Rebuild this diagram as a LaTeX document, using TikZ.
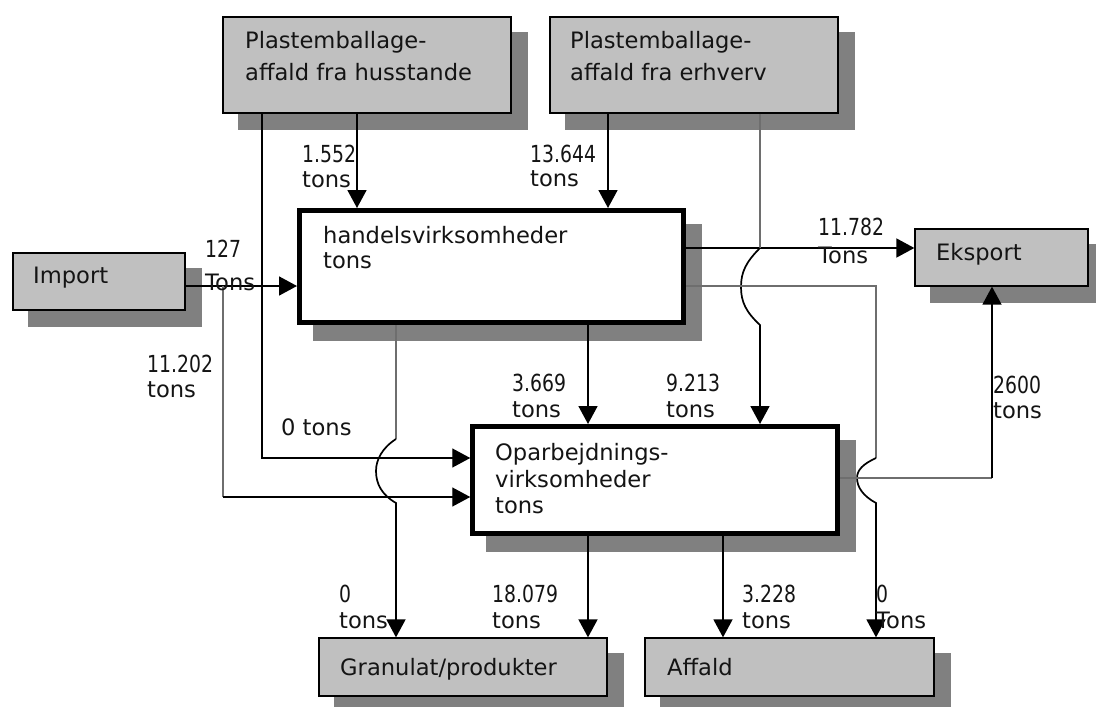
\documentclass[tikz,border=0pt]{standalone}
\usepackage{fontspec}
\setmainfont{DejaVu Sans}
\newfontfamily\numf[FakeStretch=0.8]{DejaVu Sans}
\usetikzlibrary{arrows.meta,backgrounds}
\definecolor{boxgray}{HTML}{C0C0C0}
\definecolor{shadowgray}{HTML}{808080}
\definecolor{linegray}{HTML}{6E6E6E}
\tikzset{
  gbox/.style={draw=black, line width=1.3pt, fill=boxgray, inner sep=0pt, outer sep=0.65pt},
  tbox/.style={draw=black, line width=5pt, fill=white, inner sep=0pt, outer sep=2.5pt},
  txt/.style={anchor=base west, inner sep=0pt, font=\fontsize{22.6}{26}\selectfont, text=black!92},
  num/.style={anchor=base west, inner sep=0pt, font=\numf\fontsize{23.5}{26}\selectfont, text=black!92},
  arr/.style={draw=black, line width=1.7pt, -{Triangle[length=18pt,width=19pt]}},
  thinarr/.style={draw=black, line width=1.4pt, -{Triangle[length=18pt,width=19pt]}},
  gline/.style={draw=linegray, line width=1.2pt},
  shadowfill/.style={fill=shadowgray}
}
\begin{document}
\begin{tikzpicture}[x=1pt,y=-1pt]
\useasboundingbox (0,0) rectangle (1096,707);

% boxes
\node[gbox, minimum width=288pt, minimum height=96pt] (A) at (367,65) {};
\node[gbox, minimum width=288pt, minimum height=96pt] (B) at (694,65) {};
\node[gbox, minimum width=172pt, minimum height=57pt] (Imp) at (99,281.5) {};
\node[gbox, minimum width=173pt, minimum height=57pt] (Eks) at (1001.5,257.5) {};
\node[tbox, minimum width=384pt, minimum height=112pt] (H) at (491.5,266.5) {};
\node[tbox, minimum width=364.5pt, minimum height=107pt] (O) at (655,480) {};
\node[gbox, minimum width=288pt, minimum height=58pt] (G) at (463,667) {};
\node[gbox, minimum width=289pt, minimum height=58pt] (Aff) at (789.5,667) {};

% shadows
\begin{scope}[on background layer]
  \foreach \n in {A,B,Imp,Eks,H,O,G,Aff}
    \fill[shadowfill] ([shift={(16,16)}]\n.north west) rectangle ([shift={(16,16)}]\n.south east);
\end{scope}

% box texts
\node[txt] (tA1) at (245,48) {Plastemballage-};
\node[txt] (tA2) at (245,80) {affald fra husstande};
\node[txt] (tB1) at (570,48) {Plastemballage-};
\node[txt] (tB2) at (570,80) {affald fra erhverv};
\node[txt] (tH1) at (323,243) {handelsvirksomheder};
\node[txt] (tH2) at (323,268) {tons};
\node[txt] (tImp) at (33,283) {Import};
\node[txt] (tEks) at (936,260) {Eksport};
\node[txt] (tO1) at (495,460) {Oparbejdnings-};
\node[txt] (tO2) at (495,487) {virksomheder};
\node[txt] (tO3) at (495,513) {tons};
\node[txt] (tG) at (340,675) {Granulat/produkter};
\node[txt] (tAff) at (667,675) {Affald};

% reference coordinates
\coordinate (c223) at (223,0);
\coordinate (c262) at (262,0);
\coordinate (c357) at (357,0);
\coordinate (c396) at (396,0);
\coordinate (c588) at (588,0);
\coordinate (c608) at (608,0);
\coordinate (c723) at (723,0);
\coordinate (c760) at (760,0);
\coordinate (c876) at (876,0);
\coordinate (c992) at (992,0);
\coordinate (y248) at (0,248);
\coordinate (y286) at (0,286);
\coordinate (y439) at (0,439);
\coordinate (y458) at (0,458);
\coordinate (y478) at (0,478);
\coordinate (y497) at (0,497);

% connectors
\draw[arr] (A.south -| c357) -- (H.north -| c357);
\draw[arr] (B.south -| c608) -- (H.north -| c608);
\draw[thinarr] (A.south -| c262) |- (O.west |- y458);
\draw[arr] (Imp.east |- y286) -- (H.west |- y286);
\coordinate (j1) at (c223 |- y286);
\coordinate (j2) at (c223 |- y497);
\draw[gline] (j1) -- (j2);
\draw[thinarr] (j2) -- (O.west |- y497);
\draw[arr] (H.east |- y248) -- (Eks.west |- y248);

% B -> O with hop
\coordinate (bh) at (c760 |- y248);
\draw[gline] (B.south -| c760) -- (bh);
\draw[arr] (bh) .. controls (746,262) and (741,272) .. (741,287) .. controls (741,302) and (746,312) .. (760,325) -- (O.north -| c760);

% H -> O
\draw[arr] (H.south -| c588) -- (O.north -| c588);

% H -> Affald (gray route with hop)
\coordinate (rh) at (c876 |- y458);
\draw[gline] (H.east |- y286) -| (rh);
\draw[arr] (rh) .. controls (863,464) and (857,470) .. (857,478) .. controls (857,487) and (863,496) .. (876,503) -- (Aff.north -| c876);

% O -> Eksport
\coordinate (ec) at (c992 |- y478);
\draw[gline] (O.east |- y478) -- (ec);
\draw[arr] (ec) -- (Eks.south -| c992);

% H -> Granulat (gray route with hop)
\coordinate (lh) at (c396 |- y439);
\draw[gline] (H.south -| c396) -- (lh);
\draw[arr] (lh) .. controls (382,448) and (376,460) .. (376,471) .. controls (376,484) and (382,495) .. (396,503) -- (G.north -| c396);

% O -> outputs
\draw[arr] (O.south -| c588) -- (G.north -| c588);
\draw[arr] (O.south -| c723) -- (Aff.north -| c723);

% labels
\node[num] (l1a) at (302,162) {1.552};
\node[txt] (l1b) at (302,187) {tons};
\node[num] (l2a) at (530,162) {13.644};
\node[txt] (l2b) at (530,186) {tons};
\node[num] (l3a) at (205,257) {127};
\node[txt] (l3b) at (205,290) {Tons};
\node[num] (l4a) at (147,372) {11.202};
\node[txt] (l4b) at (147,397) {tons};
\node[txt] (l5) at (281,435) {0 tons};
\node[num] (l6a) at (818,235) {11.782};
\node[txt] (l6b) at (818,263) {Tons};
\node[num] (l7a) at (512,391) {3.669};
\node[txt] (l7b) at (512,417) {tons};
\node[num] (l8a) at (666,391) {9.213};
\node[txt] (l8b) at (666,417) {tons};
\node[num] (l9a) at (993,393) {2600};
\node[txt] (l9b) at (993,418) {tons};
\node[num] (l10a) at (339,602) {0};
\node[txt] (l10b) at (339,628) {tons};
\node[num] (l11a) at (492,602) {18.079};
\node[txt] (l11b) at (492,628) {tons};
\node[num] (l12a) at (742,602) {3.228};
\node[txt] (l12b) at (742,628) {tons};
\node[num] (l13a) at (876,602) {0};
\node[txt] (l13b) at (876,628) {Tons};
\end{tikzpicture}
\end{document}
